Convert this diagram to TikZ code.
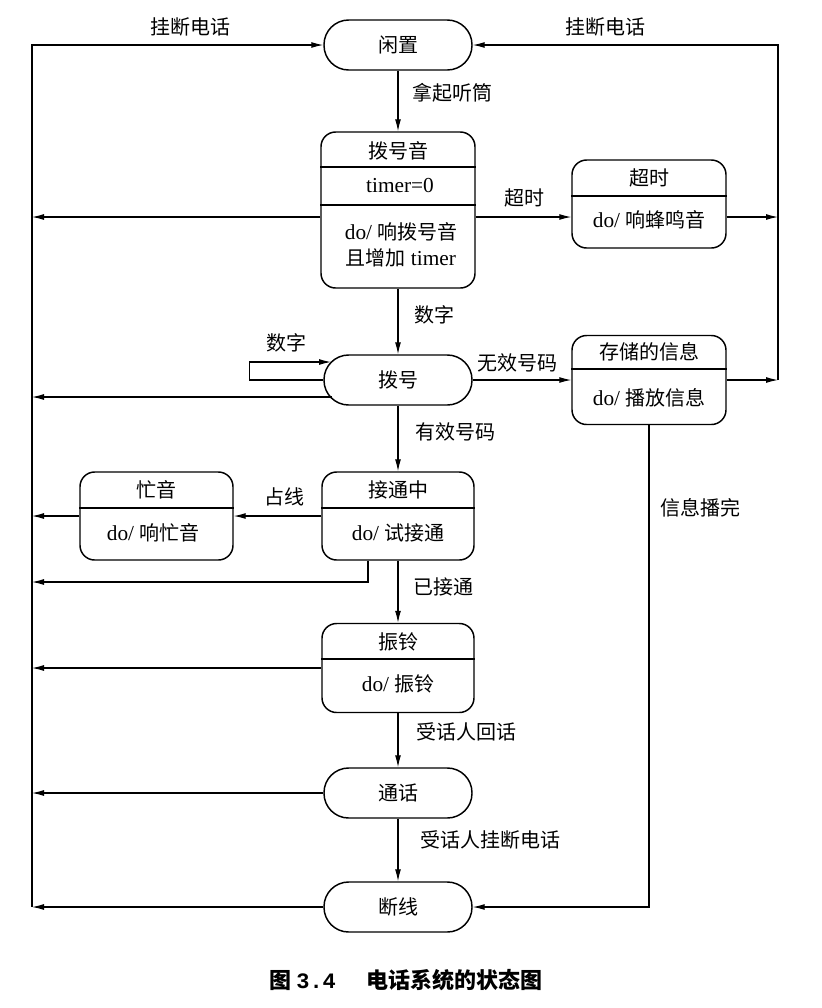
\documentclass[tikz,border=0pt]{standalone}
\usepackage{fontspec}
\setmainfont{Liberation Serif}
\newfontfamily\cjk{Noto Sans CJK SC}
\usetikzlibrary{arrows.meta}
\newcommand{\lat}[1]{{\fontsize{16}{18}\selectfont #1}}
\begin{document}
\begin{tikzpicture}[x=0.75pt,y=-0.75pt,
  font=\fontsize{15}{18}\selectfont,
  box/.style={draw, line width=1.1pt, inner sep=0pt, rounded corners=11pt},
  stadium/.style={draw, line width=1.1pt, inner sep=0pt, rounded corners=18.5pt,
     minimum width=111pt, minimum height=37.5pt},
  div/.style={line width=1.1pt},
  arr/.style={line width=0.8pt, -{Latex[length=9pt,width=4.5pt]}},
  lbl/.style={inner sep=1pt}]
\useasboundingbox (0,0) rectangle (822,1008);

% ---- states ----
\node[stadium] (idle) at (398,45) {\cjk 闲置};
\node[box, minimum width=115.5pt, minimum height=117pt] (dt) at (398,210) {};
\node[box, minimum width=115.5pt, minimum height=66pt] (to) at (649,204) {};
\node[stadium] (dial) at (398,380) {\cjk 拨号};
\node[box, minimum width=115.5pt, minimum height=66.75pt] (msg) at (649,380) {};
\node[box, minimum width=114pt, minimum height=66pt] (conn) at (398,516) {};
\node[box, minimum width=114.75pt, minimum height=66pt] (busy) at (156.5,516) {};
\node[box, minimum width=114pt, minimum height=66.75pt] (ring) at (398,668) {};
\node[stadium] (talk) at (398,793) {\cjk 通话};
\node[stadium] (disc) at (398,907) {\cjk 断线};

% ---- compartments ----
\draw[div] (dt.west |- 0,167) -- (dt.east |- 0,167);
\draw[div] (dt.west |- 0,205) -- (dt.east |- 0,205);
\draw[div] (to.west |- 0,196) -- (to.east |- 0,196);
\draw[div] (msg.west |- 0,369) -- (msg.east |- 0,369);
\draw[div] (conn.west |- 0,508) -- (conn.east |- 0,508);
\draw[div] (busy.west |- 0,508) -- (busy.east |- 0,508);
\draw[div] (ring.west |- 0,659) -- (ring.east |- 0,659);

\node (dtT) at (398,151) {\cjk 拨号音};
\node (dtA) at (400,186) {\lat{timer=0}};
\node (dtB) at (401,232) {\lat{do/} {\cjk 响拨号音}};
\node (dtC) at (401,258) {{\cjk 且增加} \lat{timer}};
\node (toT) at (649,178) {\cjk 超时};
\node (toB) at (649,220) {\lat{do/} {\cjk 响蜂鸣音}};
\node (msgT) at (649,352) {\cjk 存储的信息};
\node (msgB) at (649,398) {\lat{do/} {\cjk 播放信息}};
\node (connT) at (398,490) {\cjk 接通中};
\node (connB) at (398,533) {\lat{do/} {\cjk 试接通}};
\node (busyT) at (156.5,490) {\cjk 忙音};
\node (busyB) at (153,533) {\lat{do/} {\cjk 响忙音}};
\node (ringT) at (398,642) {\cjk 振铃};
\node (ringB) at (398,684) {\lat{do/} {\cjk 振铃}};

% ---- helper coordinates ----
\coordinate (LB) at (32,907);
\coordinate (RB) at (778,380);
\coordinate (RT) at (778,217);
\coordinate (dialL) at (332,397);
\coordinate (loopin) at (331,362);
\coordinate (cb) at (368,582);

% ---- outer lines ----
\draw[arr] (LB) |- (idle.west);
\draw[arr] (RB) |- (idle.east);
\draw[arr] (msg.east) -- (RB);
\draw[arr] (to.east |- RT) -- (RT);

% ---- transitions ----
\draw[arr] (idle.south) -- (dt.north);
\draw[arr] (dt.east |- RT) -- (to.west |- RT);
\draw[arr] (dt.west |- RT) -- (LB |- RT);
\draw[arr] (dt.south) -- (dial.north);
\draw[arr] (dial.west) -- ++(-74,0) |- (loopin);
\draw[arr] (dialL) -- (LB |- dialL);
\draw[arr] (dial.east) -- (msg.west);
\draw[arr] (dial.south) -- (conn.north);
\draw[arr] (conn.west) -- (busy.east);
\draw[arr] (busy.west) -- (LB |- busy.west);
\draw[arr] (conn.south -| cb) -- (cb) -- (LB |- cb);
\draw[arr] (conn.south) -- (ring.north);
\draw[arr] (ring.west) -- (LB |- ring.west);
\draw[arr] (ring.south) -- (talk.north);
\draw[arr] (talk.west) -- (LB |- talk.west);
\draw[arr] (talk.south) -- (disc.north);
\draw[arr] (disc.west) -- (LB);
\draw[arr] (msg.south) |- (disc.east);

% ---- labels ----
\node[lbl] (l1) at (190,27) {\cjk 挂断电话};
\node[lbl] (l2) at (605,27) {\cjk 挂断电话};
\node[lbl] (l3) at (452,93) {\cjk 拿起听筒};
\node[lbl] (l4) at (524,198) {\cjk 超时};
\node[lbl] (l5) at (434,315) {\cjk 数字};
\node[lbl] (l6) at (286,343) {\cjk 数字};
\node[lbl] (l7) at (517,363) {\cjk 无效号码};
\node[lbl] (l8) at (455,432) {\cjk 有效号码};
\node[lbl] (l9) at (284,497) {\cjk 占线};
\node[lbl] (l10) at (700,508) {\cjk 信息播完};
\node[lbl] (l11) at (443,587) {\cjk 已接通};
\node[lbl] (l12) at (466,732) {\cjk 受话人回话};
\node[lbl] (l13) at (490,840) {\cjk 受话人挂断电话};
\node[lbl] (cap) at (406,980) {\fontsize{16.5}{20}\selectfont\cjk\bfseries 图 {\fontspec{Liberation Mono}3.4}\hspace{1.4em}电话系统的状态图};
\end{tikzpicture}
\end{document}
